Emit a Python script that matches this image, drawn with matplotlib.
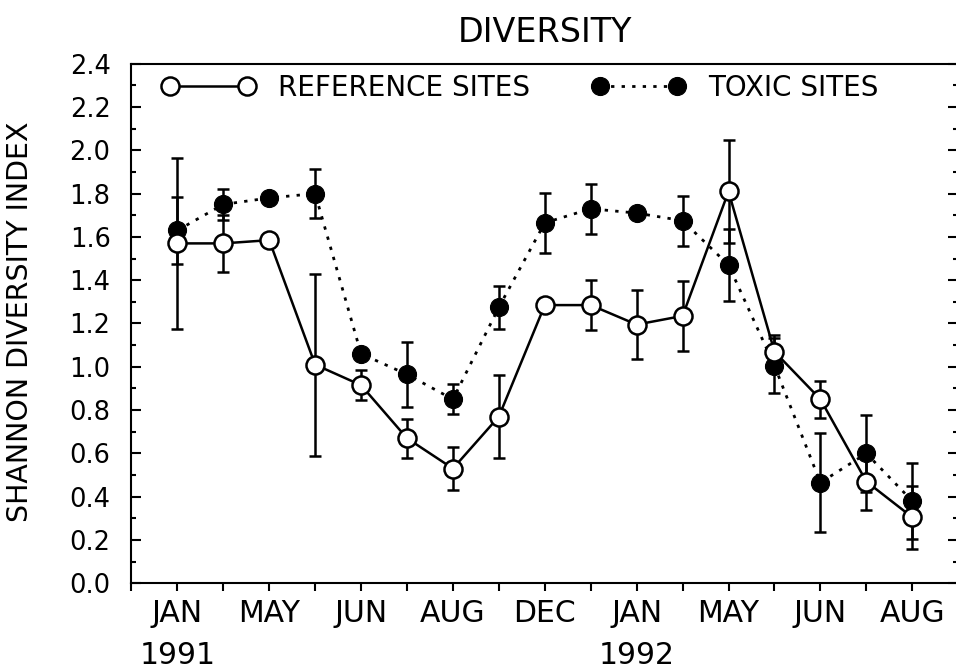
import matplotlib
matplotlib.use('Agg')
import matplotlib.pyplot as plt
from matplotlib.ticker import MultipleLocator, FormatStrFormatter

# ---- data ----
months = ['JAN', 'MAY', 'JUN', 'AUG', 'DEC', 'JAN', 'MAY', 'JUN', 'AUG']
years = ['1991', '1992']
year_pos = [0, 10]
sample = list(range(17))
ref_mean = [1.57, 1.57, 1.585, 1.01, 0.915, 0.67, 0.53, 0.77, 1.285, 1.285,
            1.195, 1.235, 1.81, 1.07, 0.85, 0.47, 0.305]
ref_err = [0.395, 0.13, 0.0, 0.42, 0.07, 0.09, 0.10, 0.19, 0.0, 0.115,
           0.16, 0.16, 0.237, 0.077, 0.085, 0.133, 0.145]
tox_mean = [1.63, 1.75, 1.78, 1.80, 1.06, 0.965, 0.85, 1.275, 1.665, 1.73,
            1.71, 1.675, 1.47, 1.005, 0.465, 0.60, 0.38]
tox_err = [0.155, 0.07, 0.0, 0.115, 0.0, 0.15, 0.07, 0.10, 0.14, 0.115,
           0.0, 0.115, 0.165, 0.127, 0.23, 0.177, 0.175]

plt.rcParams['font.family'] = ['DejaVu Sans']

W, H = 956, 671
fig = plt.figure(figsize=(W / 100, H / 100), dpi=100)
ax = fig.add_axes([131.4 / W, 1 - 583.3 / H, 826.8 / W, (583.3 - 63.7) / H])

ax.errorbar(sample, tox_mean, yerr=tox_err, fmt='none', ecolor='black',
            elinewidth=1.8, capsize=4.3, capthick=1.8, zorder=2)
ax.errorbar(sample, ref_mean, yerr=ref_err, fmt='none', ecolor='black',
            elinewidth=1.8, capsize=4.3, capthick=1.8, zorder=2)
lt, = ax.plot(sample, tox_mean, color='black', lw=2.0, linestyle=(0, (1.2, 2.6)),
              marker='o', ms=13, mfc='black', mec='black', mew=0.8, zorder=3)
lr, = ax.plot(sample, ref_mean, color='black', lw=1.8, linestyle='-',
              marker='o', ms=13.0, mfc='white', mec='black', mew=1.8, zorder=4)

ax.legend(handles=[lr, lt], labels=['REFERENCE SITES', 'TOXIC SITES'], ncol=2,
          numpoints=2, frameon=False, loc='center left',
          bbox_to_anchor=(0.037, 0.954), borderpad=0, borderaxespad=0,
          handlelength=3.37, handletextpad=0.82, columnspacing=2.22, fontsize=20)

ax.set_xlim(-1, 17)
ax.set_ylim(0, 2.4)
ticks = list(range(-1, 17))
labels = [''] + [months[i // 2] if i % 2 == 0 else '' for i in range(17)]
ax.set_xticks(ticks)
ax.set_xticklabels(labels)
ax.tick_params(axis='x', direction='out', length=6, width=1.5, labelsize=21.5, pad=5)

ax.yaxis.set_major_locator(MultipleLocator(0.2))
ax.yaxis.set_minor_locator(MultipleLocator(0.1))
ax.yaxis.set_major_formatter(FormatStrFormatter('%.1f'))
ax.tick_params(axis='y', which='major', direction='in', left=True, right=True,
               length=7.2, width=1.5, labelsize=18.5, pad=15)
ax.tick_params(axis='y', which='minor', direction='in', left=True, right=True,
               length=3.6, width=1.5)

for s in ax.spines.values():
    s.set_linewidth(1.5)

for yp, yl in zip(year_pos, years):
    ax.text(yp, (583.3 - 655) / 519.6, yl, transform=ax.get_xaxis_transform(),
            ha='center', va='center', fontsize=21.5)

fig.text(545 / W, 1 - 32 / H, 'DIVERSITY', ha='center', va='center', fontsize=24)
fig.text(20 / W, 1 - 322 / H, 'SHANNON DIVERSITY INDEX', ha='center', va='center',
         rotation=90, fontsize=20.5)

fig.savefig('out.png', dpi=100)
